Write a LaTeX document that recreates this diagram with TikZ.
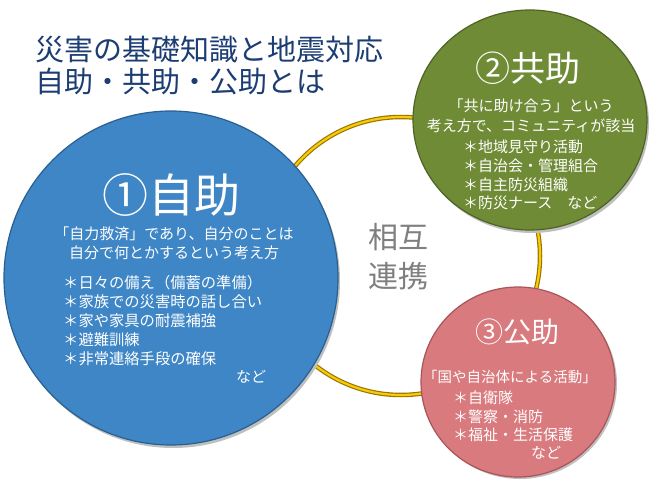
\documentclass[tikz,border=0pt]{standalone}
\usepackage{fontspec}
\setmainfont{Noto Sans CJK JP}
\usetikzlibrary{shapes.geometric}
\definecolor{titlenavy}{HTML}{1C3D73}
\definecolor{selfblue}{HTML}{3E86C6}
\definecolor{selfbluedark}{HTML}{2A5F91}
\definecolor{mutualgreen}{HTML}{6F8B36}
\definecolor{mutualgreendark}{HTML}{4E6424}
\definecolor{publicpink}{HTML}{D97A7E}
\definecolor{publicpinkdark}{HTML}{A9555A}
\definecolor{ringgold}{HTML}{9A7400}
\definecolor{ringyellow}{HTML}{F5CB0A}
\definecolor{linkgrey}{HTML}{7F7F7F}
\tikzset{
  bubble/.style={ellipse, inner sep=0pt},
  heading/.style={text=white, inner sep=0pt},
  bodytext/.style={text=white, inner sep=0pt},
}
\begin{document}
\begin{tikzpicture}[x=1pt,y=-1pt]
\useasboundingbox (0,0) rectangle (650,486);
\fill[white] (0,0) rectangle (650,486);
% ring
\node[circle, minimum size=278pt, draw=ringgold, line width=4.5pt] (ring) at (401,256) {};
\node[circle, minimum size=278pt, draw=ringyellow, line width=2.2pt] (ringhi) at (401,256) {};
% circles
\fill[black!25] (173,281) ellipse [x radius=167, y radius=167];
\node[bubble, minimum width=334pt, minimum height=334pt, fill=selfblue, draw=selfbluedark, line width=1.2pt] (self) at (171,278) {};
\fill[black!25] (532,123) ellipse [x radius=117, y radius=110];
\node[bubble, minimum width=234pt, minimum height=220pt, fill=mutualgreen, draw=mutualgreendark, line width=1.2pt] (mutual) at (530,120) {};
\fill[black!25] (520,384) ellipse [x radius=97, y radius=95];
\node[bubble, minimum width=194pt, minimum height=190pt, fill=publicpink, draw=publicpinkdark, line width=1.2pt] (public) at (518,382) {};
% title
\node[anchor=west, text=titlenavy, inner sep=0pt, font=\fontsize{29}{32}\selectfont] (title1) at (35,50) {災害の基礎知識と地震対応};
\node[anchor=west, text=titlenavy, inner sep=0pt, font=\fontsize{29}{32}\selectfont] (title2) at (35,82) {自助・共助・公助とは};
% center label
\node[text=linkgrey, inner sep=0pt, align=center, font=\fontsize{30}{39}\selectfont] (link) at (398,257) {相互\\連携};
% self help
\node[heading, font=\fontsize{46}{50}\selectfont] (selfhead) at (171,195) {①自助};
\node[bodytext, align=center, font=\fontsize{15}{19}\selectfont] (selfdesc) at (174,243) {「自力救済」であり、自分のことは\\自分で何とかするという考え方};
\node[bodytext, anchor=west, align=left, font=\fontsize{15.3}{19}\selectfont] (selflist) at (63,321) {＊日々の備え（備蓄の準備）\\＊家族での災害時の話し合い\\＊家や家具の耐震補強\\＊避難訓練\\＊非常連絡手段の確保};
\node[bodytext, font=\fontsize{15}{19}\selectfont] (selfetc) at (251,377) {など};
% mutual help
\node[heading, font=\fontsize{35}{40}\selectfont] (mutualhead) at (528,68) {②共助};
\node[bodytext, align=center, font=\fontsize{15}{20}\selectfont] (mutualdesc) at (531,116) {「共に助け合う」という\\考え方で、コミュニティが該当};
\node[bodytext, anchor=west, align=left, font=\fontsize{15}{18.7}\selectfont] (mutuallist) at (463,175) {＊地域見守り活動\\＊自治会・管理組合\\＊自主防災組織\\＊防災ナース　など};
% public help
\node[heading, font=\fontsize{28}{32}\selectfont] (publichead) at (517,332) {③公助};
\node[bodytext, font=\fontsize{14.5}{18}\selectfont] (publicdesc) at (510,377) {「国や自治体による活動」};
\node[bodytext, anchor=west, align=left, font=\fontsize{15}{18.5}\selectfont] (publiclist) at (453,416.5) {＊自衛隊\\＊警察・消防\\＊福祉・生活保護};
\node[bodytext, font=\fontsize{15}{18}\selectfont] (publicetc) at (546,453) {など};
\end{tikzpicture}
\end{document}
